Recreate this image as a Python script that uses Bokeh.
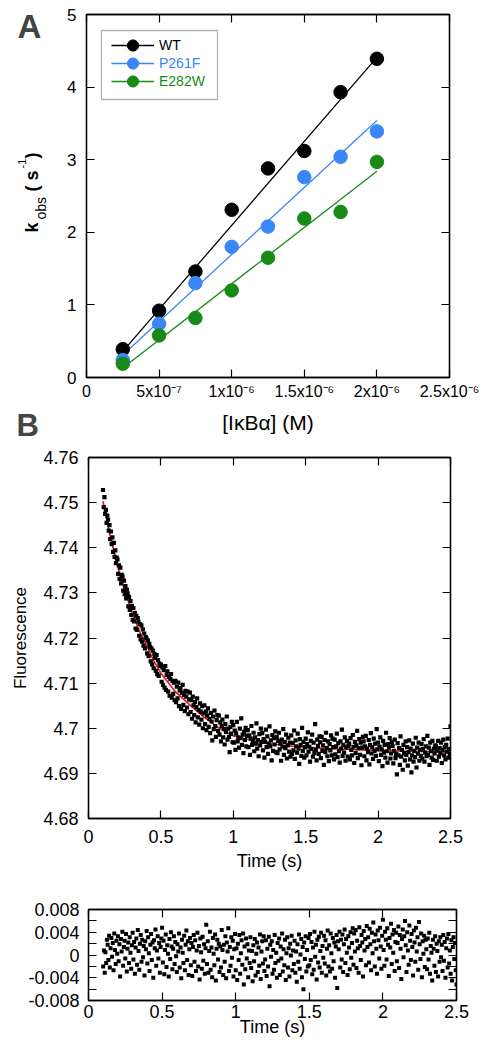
import math
import numpy as np
from bokeh.plotting import figure
from bokeh.models import (LinearAxis, FixedTicker, CustomJSTickFormatter, NumeralTickFormatter,
                          Label, Legend, LegendItem, BoxAnnotation, Range1d)
from bokeh.layouts import column, row
from bokeh.embed import file_html
from bokeh.resources import INLINE

FONT = "Liberation Sans"

# ---------------- Panel A data ----------------
conc = [2.5e-7, 5e-7, 7.5e-7, 1e-6, 1.25e-6, 1.5e-6, 1.75e-6, 2e-6]
kobs_wt = [0.39, 0.92, 1.46, 2.31, 2.88, 3.12, 3.93, 4.39]
kobs_p261f = [0.24, 0.74, 1.30, 1.80, 2.08, 2.76, 3.04, 3.39]
kobs_e282w = [0.19, 0.58, 0.82, 1.20, 1.65, 2.19, 2.28, 2.97]
fit_conc = [2.5e-7, 2e-6]
fit_wt = [0.36, 4.41]
fit_p261f = [0.31, 3.54]
fit_e282w = [0.13, 2.84]
series_names = ["WT", "P261F", "E282W"]
series_colors = ["#000000", "#3a86f7", "#178a17"]
conc_ticks = [0, 5e-7, 1e-6, 1.5e-6, 2e-6, 2.5e-6]
conc_tick_labels = ["0", "5x10⁻⁷", "1x10⁻⁶", "1.5x10⁻⁶", "2x10⁻⁶", "2.5x10⁻⁶"]
kobs_ticks = [0, 1, 2, 3, 4, 5]

# ---------------- Panel B data ----------------
fluor_base = 4.68
fluor_unit = 1e-4
fluor_counts = [
    728, 690, 712, 675, 684, 655, 671, 662, 638, 650, 619, 636, 608, 623, 591, 611, 580, 594, 566, 578,
    574, 542, 561, 531, 556, 521, 540, 536, 505, 527, 497, 515, 488, 507, 499, 470, 491, 462, 482, 451,
    471, 440, 466, 437, 455, 421, 449, 418, 444, 436, 405, 431, 397, 428, 392, 419, 383, 410, 377, 402,
    399, 366, 394, 360, 387, 380, 348, 377, 341, 372, 333, 365, 356, 327, 362, 320, 351, 316, 343, 338,
    341, 303, 335, 296, 329, 290, 338, 285, 318, 326, 281, 314, 272, 309, 320, 268, 305, 276, 301, 262,
    305, 258, 292, 266, 301, 249, 284, 289, 243, 279, 296, 252, 274, 238, 283, 270, 246, 281, 231, 264,
    279, 236, 262, 221, 270, 251, 229, 258, 213, 247, 266, 224, 241, 208, 255, 237, 219, 249, 200, 233,
    251, 209, 237, 196, 228, 244, 203, 221, 189, 234, 215, 173, 226, 198, 239, 205, 181, 218, 229, 194,
    228, 186, 213, 171, 205, 219, 180, 198, 164, 209, 192, 226, 175, 199, 181, 147, 203, 188, 214, 169,
    207, 168, 195, 152, 188, 214, 171, 180, 157, 199, 178, 222, 163, 186, 145, 192, 174, 201, 160, 183,
    196, 158, 184, 141, 177, 205, 163, 172, 190, 149, 180, 166, 211, 155, 174, 138, 187, 162, 199, 170,
    189, 151, 176, 135, 170, 197, 158, 182, 143, 166, 204, 160, 173, 129, 185, 150, 178, 164, 193, 147,
    181, 145, 172, 190, 153, 166, 128, 175, 159, 198, 141, 170, 156, 186, 133, 162, 179, 148, 168, 137,
    184, 143, 167, 151, 195, 132, 173, 160, 146, 188, 155, 121, 176, 163, 139, 201, 150, 170, 135, 158,
    177, 140, 165, 191, 148, 159, 126, 172, 154, 186, 137, 168, 145, 209, 152, 129, 175, 161, 143, 182,
    169, 134, 181, 150, 162, 119, 174, 147, 190, 156, 138, 171, 127, 165, 151, 184, 140, 177, 158, 131,
    175, 142, 160, 188, 136, 167, 149, 124, 171, 155, 197, 139, 163, 146, 180, 128, 158, 172, 137, 161,
    166, 131, 178, 152, 140, 185, 159, 123, 170, 145, 162, 194, 134, 156, 176, 141, 168, 118, 157, 181,
    171, 138, 160, 183, 129, 155, 147, 174, 120, 163, 189, 144, 158, 132, 177, 150, 166, 139, 198, 153,
    168, 127, 159, 180, 141, 153, 116, 172, 146, 163, 135, 190, 149, 124, 165, 157, 178, 133, 144, 170,
    161, 122, 150, 175, 134, 143, 98, 167, 140, 156, 119, 182, 137, 152, 108, 163, 145, 129, 171, 141,
    158, 117, 147, 173, 131, 155, 102, 140, 166, 126, 150, 136, 179, 113, 157, 144, 168, 128, 152, 139,
    165, 133, 154, 176, 126, 146, 160, 138, 183, 141, 157, 119, 168, 149, 135, 172, 130, 155, 144, 162,
    160, 128, 151, 172, 137, 156, 145, 168, 123, 152, 175, 140, 158, 131, 163, 148, 177, 135, 154, 143,
    204,
]
fit_time = [0.1, 0.15, 0.2, 0.25, 0.3, 0.35, 0.4, 0.45, 0.5, 0.6, 0.7, 0.8, 0.9, 1.0,
            1.2, 1.4, 1.6, 1.8, 2.0, 2.2, 2.5]
fit_fluor = [4.7503, 4.7426, 4.7360, 4.7305, 4.7258, 4.7216, 4.7185, 4.7150, 4.7122, 4.7081,
             4.7052, 4.7024, 4.7001, 4.6983, 4.6968, 4.6960, 4.6956, 4.6953, 4.6951, 4.6949, 4.6947]
time_start, time_end = 0.1, 2.5
time_ticks = [0, 0.5, 1, 1.5, 2, 2.5]
fluor_ticks = [4.68, 4.69, 4.70, 4.71, 4.72, 4.73, 4.74, 4.75, 4.76]

# ---------------- Panel C data ----------------
resid_unit = 1e-4
resid_counts = [
    -20, 8, -31, 5, -14, 27, 18, -9, 34, -22, 12, 30, -3, 21, -27, 38, 9, -16, 25, 2,
    33, -11, 19, -38, 28, 6, 41, -19, 14, 25, -6, 37, -29, 11, 22, -14, 31, 4, -24, 17,
    39, -8, 23, -33, 13, 29, -17, 44, 7, -26, 20, 35, -12, 27, -4, 16, -36, 24, 10, 42,
    -15, 31, 3, -28, 18, 37, -9, 22, -40, 26, 12, 45, -19, 8, 33, -6, 21, -31, 14, 29,
    48, -13, 25, -34, 9, 36, -21, 17, 2, -38, 28, -7, 40, 15, -25, 11, 33, -16, 23, -2,
    -30, 19, 6, 38, -22, 13, -41, 27, 4, -14, 34, -27, 18, 43, -9, 24, -35, 10, 30, -18,
    21, -37, 14, 35, -12, 26, -28, 8, 39, -20, 16, -43, 29, 5, -24, 32, -10, 19, -33, 12,
    53, -16, 24, -31, 7, 41, -26, 13, -39, 30, 2, -18, 36, -45, 11, 27, -8, 20, -30, 15,
    -22, 44, 9, -35, 18, -12, 33, -41, 22, 6, 47, -28, 14, -19, 31, -5, 25, -38, 10, 37,
    -27, 12, -44, 20, -9, 35, -33, 3, 26, -17, 38, -52, 15, -25, 29, -6, 19, -39, 8, -14,
    31, -23, 7, -46, 17, -11, 28, -36, 2, 22, -30, 13, -19, 36, -42, 6, 24, -15, 33, -28,
    -8, 26, -37, 11, -20, 32, -55, 18, -3, 24, -33, 9, -26, 35, -14, 4, -40, 21, -10, 29,
    -35, 15, -6, 38, -29, 10, -18, 27, -44, 3, 31, -22, 12, -38, 20, -1, 34, -27, 8, -16,
    25, -31, 6, -47, 19, -12, 36, -24, 1, 28, -39, 14, -60, 22, -7, 33, -29, 9, -20, 30,
    -18, 37, -9, 23, -34, 13, -26, 41, -3, 18, -43, 27, -13, 32, -22, 7, 39, -31, 16, -5,
    34, -15, 26, -36, 11, 43, -20, 17, -29, 38, 3, -24, 30, -11, 22, -40, 15, 35, -58, 24,
    10, 41, -22, 27, -8, 36, -30, 19, 45, -14, 28, 4, -35, 33, 13, -25, 40, -5, 21, 47,
    -17, 38, 6, 44, -23, 25, 12, -31, 49, 16, -9, 35, 22, -38, 42, 8, 28, -18, 51, 14,
    31, -13, 46, 19, -27, 39, 3, 57, 24, -20, 36, 11, -33, 43, 26, -6, 48, 15, -24, 34,
    62, 9, -19, 41, 27, -8, 47, 18, -37, 30, 13, 55, -16, 36, 4, 44, -28, 23, 39, -11,
    21, 50, -23, 35, 11, -42, 28, 45, -4, 33, 60, 17, -30, 40, 8, -17, 52, 25, -9, 37,
    14, -36, 43, 22, -12, 48, 6, 31, -26, 58, 19, -7, 38, -39, 24, 2, 34, -21, 27, 10,
    -25, 29, -8, 39, -33, 16, 4, -45, 27, 11, -19, 33, -30, 20, 7, -38, 24, -12, 31, -4,
    18, -28, 35, -10, 23, -40, 12, 29, -22, 37, -15, 8, -33, 26, -45, 14, 31, -7, 21, -27,
    -52,
]
resid_ticks = [-0.008, -0.004, 0, 0.004, 0.008]
resid_minor_ticks = [-0.006, -0.002, 0.002, 0.006]

fluor = [fluor_base + c * fluor_unit for c in fluor_counts]
time_b = np.linspace(time_start, time_end, len(fluor)).tolist()
resid = [c * resid_unit for c in resid_counts]
time_c = np.linspace(time_start, time_end, len(resid)).tolist()


def make_axis(ticker, formatter=None, labels=True, font_size="17px", standoff=8,
              label=None, label_size="18px", label_standoff=5):
    ax = LinearAxis(ticker=ticker)
    if labels:
        if formatter is not None:
            ax.formatter = formatter
        ax.major_label_text_font_size = font_size
        ax.major_label_standoff = standoff
    else:
        ax.formatter = CustomJSTickFormatter(code="return '';")
        ax.major_label_text_font_size = "1px"
        ax.major_label_standoff = 0
    ax.major_label_text_font = FONT
    ax.major_label_text_color = "black"
    ax.axis_line_color = "black"
    ax.axis_line_width = 1.3
    ax.major_tick_line_color = "black"
    ax.major_tick_line_width = 1.2
    ax.major_tick_in = 8
    ax.major_tick_out = 0
    ax.minor_tick_line_color = "black"
    ax.minor_tick_line_width = 1.2
    ax.minor_tick_in = 8
    ax.minor_tick_out = 0
    if label:
        ax.axis_label = label
        ax.axis_label_text_font = FONT
        ax.axis_label_text_font_size = label_size
        ax.axis_label_text_font_style = "normal"
        ax.axis_label_text_color = "black"
        ax.axis_label_standoff = label_standoff
    return ax


def base_fig(fw, fh, left, right, top, bottom, xr, yr):
    p = figure(title=None, frame_width=fw, frame_height=fh, min_border_left=left,
               min_border_right=right, min_border_top=top, min_border_bottom=bottom,
               x_range=xr, y_range=yr, x_axis_type=None, y_axis_type=None,
               output_backend="svg", toolbar_location=None)
    p.outline_line_color = "black"
    p.outline_line_width = 1.3
    p.background_fill_color = "white"
    p.border_fill_color = "white"
    return p


# ================= Panel A =================
A_LEFT, A_TOP, A_W, A_H = 86, 14, 363, 363
STRIP_W, STRIP_H = 58, 444
pa = base_fig(A_W, A_H, A_LEFT - STRIP_W, 37, A_TOP, STRIP_H - A_TOP - A_H,
              Range1d(0, 2.5e-6), Range1d(0, 5))


def xa(px):
    return (px - A_LEFT) / A_W * 2.5e-6


def ya(py):
    return 5 - (py - A_TOP) / A_H * 5


conc_fmt = CustomJSTickFormatter(args=dict(vals=conc_ticks, labels=conc_tick_labels), code="""
let best = 0; let bd = Infinity;
for (let i = 0; i < vals.length; i++) { const d = Math.abs(vals[i] - tick); if (d < bd) { bd = d; best = i; } }
return labels[best];
""")
pa.add_layout(make_axis(FixedTicker(ticks=conc_ticks), conc_fmt, font_size="16px", standoff=5,
                        label="[IκBα] (M)", label_size="21px", label_standoff=8), "below")
pa.add_layout(make_axis(FixedTicker(ticks=kobs_ticks), font_size="17px", standoff=10), "left")
pa.add_layout(make_axis(FixedTicker(ticks=kobs_ticks), labels=False), "right")
pa.add_layout(make_axis(FixedTicker(ticks=conc_ticks), labels=False), "above")

# legend frame
pa.add_layout(BoxAnnotation(left=xa(101), right=xa(217), top=ya(30), bottom=ya(99),
                            fill_color="white", fill_alpha=1.0, line_color="black", line_width=1.3))

line_rs, scat_rs = [], []
for fit, color in zip([fit_wt, fit_p261f, fit_e282w], series_colors):
    line_rs.append(pa.line(fit_conc, fit, line_color=color, line_width=1.3))
for ys, color in zip([kobs_wt, kobs_p261f, kobs_e282w], series_colors):
    scat_rs.append(pa.scatter(conc, ys, marker="circle", size=13.5, fill_color=color, line_color=color))

legend_vy = [318, 300, 282]
for name, color, lr, sr, vy in zip(series_names, series_colors, line_rs, scat_rs, legend_vy):
    leg = Legend(items=[LegendItem(label=name, renderers=[lr, sr])], location=(25, vy),
                 padding=0, margin=0, spacing=0, border_line_color=None, background_fill_alpha=0,
                 glyph_width=43, glyph_height=28, label_standoff=5, label_height=28,
                 label_text_font=FONT, label_text_font_size="14px", label_text_color=color)
    pa.add_layout(leg)

# left strip holding panel letters and the k_obs axis title.
# Its frame is aligned with panel A's frame top (page y = A_TOP), so the data
# range below makes data y equal page y.
strip = figure(title=None, frame_width=STRIP_W, frame_height=STRIP_H,
               min_border_left=0, min_border_right=0, min_border_top=0, min_border_bottom=0,
               x_range=Range1d(0, STRIP_W), y_range=Range1d(STRIP_H + A_TOP, A_TOP),
               x_axis_type=None, y_axis_type=None, output_backend="svg", toolbar_location=None)
strip.outline_line_color = None
strip.background_fill_color = "white"
strip.border_fill_color = "white"

strip.add_layout(Label(x=17, y=26, text="A", text_font=FONT, text_font_size="33px",
                       text_font_style="bold", text_align="left", text_baseline="middle"))
strip.add_layout(Label(x=16, y=425, text="B", text_font=FONT, text_font_size="31px",
                       text_font_style="bold", text_align="left", text_baseline="middle"))

# (text, centre-line x, start y, size, weight)
ylab_pieces = [("k", 31, 232, "18px", "bold"), ("obs", 40, 219, "14px", "normal"),
               ("(", 31, 191, "18px", "bold"), ("s", 31, 180, "18px", "bold"),
               ("-1", 21, 168, "11px", "normal"), (")", 31, 158, "18px", "bold")]
for txt, bx, by, fs, fw in ylab_pieces:
    strip.add_layout(Label(x=bx, y=by, text=txt, angle=math.pi / 2, text_font=FONT,
                           text_font_size=fs, text_font_style=fw, text_align="left",
                           text_baseline="middle", text_color="black"))

# ================= Panel B =================
pb = base_fig(362, 361, 88, 36, 13, 62, Range1d(0, 2.5), Range1d(4.68, 4.76))
pb.add_layout(make_axis(FixedTicker(ticks=time_ticks), NumeralTickFormatter(format="0.[0]"),
                        font_size="18px", standoff=11, label="Time (s)", label_size="18px",
                        label_standoff=5), "below")
pb.add_layout(make_axis(FixedTicker(ticks=fluor_ticks), NumeralTickFormatter(format="0.[00]"),
                        font_size="18px", standoff=10, label="Fluorescence", label_size="17px",
                        label_standoff=10), "left")
pb.add_layout(make_axis(FixedTicker(ticks=fluor_ticks), labels=False), "right")
pb.add_layout(make_axis(FixedTicker(ticks=time_ticks), labels=False), "above")
pb.line(fit_time, fit_fluor, line_color="#e3121b", line_width=1.6)
pb.scatter(time_b, fluor, marker="square", size=4.2, fill_color="black", line_color=None)

# ================= Panel C =================
pc = base_fig(368, 91, 84, 34, 29, 42, Range1d(0, 2.5), Range1d(-0.008, 0.008))
pc.add_layout(make_axis(FixedTicker(ticks=time_ticks), NumeralTickFormatter(format="0.[0]"),
                        font_size="18px", standoff=4, label="Time (s)", label_size="18px",
                        label_standoff=-4), "below")
pc.add_layout(make_axis(FixedTicker(ticks=resid_ticks, minor_ticks=resid_minor_ticks),
                        NumeralTickFormatter(format="0.[000]"), font_size="18px", standoff=9), "left")
pc.add_layout(make_axis(FixedTicker(ticks=resid_ticks, minor_ticks=resid_minor_ticks), labels=False), "right")
pc.add_layout(make_axis(FixedTicker(ticks=time_ticks), labels=False), "above")
pc.scatter(time_c, resid, marker="square", size=4.0, fill_color="black", line_color=None)

layout = column(row(strip, pa, spacing=0), pb, pc, spacing=0)
open("out.html", "w").write(file_html(layout, INLINE, title="kinetics"))
